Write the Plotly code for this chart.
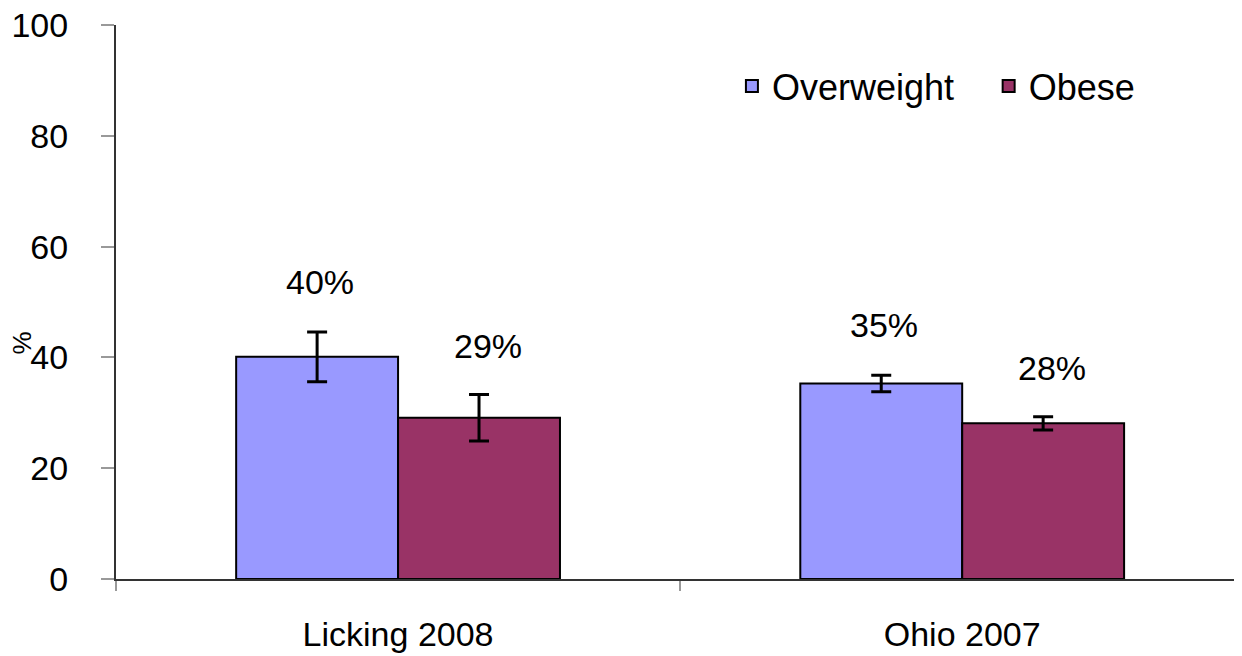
import plotly.graph_objects as go

categories = ["Licking 2008", "Ohio 2007"]
overweight = [40.1, 35.3]
overweight_err = [4.5, 1.5]
obese = [29.1, 28.1]
obese_err = [4.2, 1.2]
overweight_labels = ["40%", "35%"]
obese_labels = ["29%", "28%"]
y_ticks = [0, 20, 40, 60, 80, 100]
y_title = "%"

FONT = "Liberation Sans, Arial, sans-serif"
# the page adds an 8px body margin, so the figure is drawn 8px smaller
W, H = 1234, 648
L, R, T, B = 108, 0, 17, 77
PW = W - L - R

fig = go.Figure()
fig.add_trace(go.Bar(
    name="Overweight", x=categories, y=overweight, legend="legend",
    marker=dict(color="#9999FF", line=dict(color="#000000", width=2)),
    error_y=dict(type="data", array=overweight_err, visible=True,
                 color="#000000", thickness=3, width=10),
))
fig.add_trace(go.Bar(
    name="Obese", x=categories, y=obese, legend="legend2",
    marker=dict(color="#993366", line=dict(color="#000000", width=2)),
    error_y=dict(type="data", array=obese_err, visible=True,
                 color="#000000", thickness=3, width=10),
))

annotations = []
for i, c in enumerate(categories):
    annotations.append(dict(x=c, y=overweight[i] + overweight_err[i], xref="x", yref="y",
                            text=overweight_labels[i], showarrow=False, xshift=-78,
                            yshift=29, yanchor="bottom",
                            font=dict(family=FONT, size=34, color="#000000")))
    annotations.append(dict(x=c, y=obese[i] + obese_err[i], xref="x", yref="y",
                            text=obese_labels[i], showarrow=False, xshift=90,
                            yshift=28, yanchor="bottom",
                            font=dict(family=FONT, size=34, color="#000000")))
annotations.append(dict(x=-(L - 14) / PW, y=0.425, xref="paper", yref="paper",
                        text=y_title, showarrow=False, textangle=-90,
                        xanchor="center", yanchor="middle",
                        font=dict(family=FONT, size=26, color="#000000")))

legend_style = dict(orientation="h", y=0.944, xanchor="left", yanchor="top",
                    font=dict(family=FONT, size=36, color="#000000"),
                    bgcolor="rgba(0,0,0,0)", itemwidth=30)

fig.update_layout(
    width=W, height=H,
    margin=dict(l=L, r=R, t=T, b=B, autoexpand=False),
    paper_bgcolor="#FFFFFF", plot_bgcolor="#FFFFFF",
    barmode="group", bargap=0.426, bargroupgap=0,
    font=dict(family=FONT, size=34, color="#000000"),
    showlegend=True,
    legend=dict(x=0.547, **legend_style),
    legend2=dict(x=0.775, **legend_style),
    annotations=annotations,
    xaxis=dict(
        automargin=False,
        range=[-0.5, 1.496], showline=True, linecolor="#333333", linewidth=2,
        ticks="outside", tickson="boundaries", ticklen=10, tickcolor="#999999",
        tickwidth=2, showgrid=False, zeroline=False,
        tickfont=dict(family=FONT, size=34, color="#000000"),
        ticklabelstandoff=24, ticklabeloverflow="allow",
    ),
    yaxis=dict(
        automargin=False,
        range=[0, 100], tickvals=y_ticks, showline=True, linecolor="#333333",
        linewidth=2, ticks="outside", ticklen=13, tickcolor="#999999", tickwidth=2,
        showgrid=False, zeroline=False,
        tickfont=dict(family=FONT, size=34, color="#000000"),
        ticklabelstandoff=26, ticklabeloverflow="allow",
    ),
)

fig.write_html("out.html")
